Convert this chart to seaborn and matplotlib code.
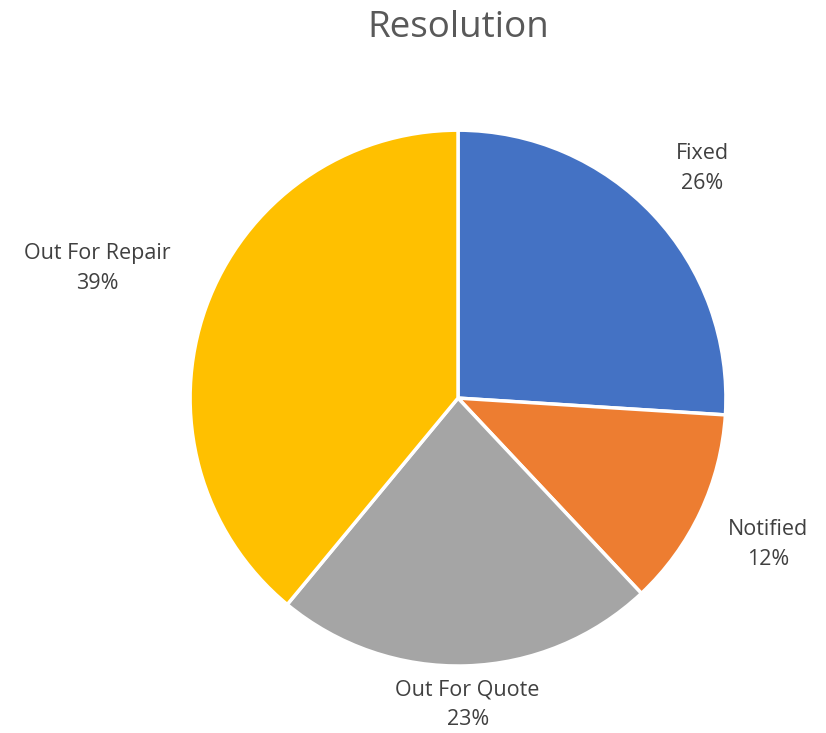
import numpy as np
import matplotlib
matplotlib.use("Agg")
import matplotlib.pyplot as plt
import seaborn as sns

# data
categories = ["Fixed", "Notified", "Out For Quote", "Out For Repair"]
shares = [26, 12, 23, 39]
slice_colors = ["#4472C4", "#ED7D31", "#A5A5A5", "#FFC000"]

# distance of each label centre from the pie centre (in radii)
label_r = [1.25, 1.28, 1.145, 1.43]

sns.set_style("white")
plt.rcParams['font.family'] = ['Open Sans', 'DejaVu Sans']

fig = plt.figure(figsize=(8.26, 7.33), dpi=100)
ax = fig.add_axes([0.230, 0.0914, 0.649, 0.731])

wedges, texts = ax.pie(
    shares,
    labels=[f"{c}\n{s}%" for c, s in zip(categories, shares)],
    colors=slice_colors,
    startangle=90,
    counterclock=False,
    wedgeprops=dict(edgecolor="white", linewidth=2.5),
    textprops=dict(fontsize=15.5, color="#404040"),
)

# put each label centred on the slice bisector, like Excel does
for w, t, r in zip(wedges, texts, label_r):
    mid = np.deg2rad((w.theta1 + w.theta2) / 2)
    t.set_position((r * np.cos(mid), r * np.sin(mid)))
    t.set_ha("center")
    t.set_va("center")
    t.set_multialignment("center")
    t.set_linespacing(1.55)

ax.set_xlim(-1, 1)
ax.set_ylim(-1, 1)
ax.set_aspect("equal")
ax.axis("off")

fig.text(0.555, 0.962, "Resolution", ha="center", va="center",
         fontsize=26.5, color="#595959")

fig.savefig("out.png", dpi=100, facecolor="white")
